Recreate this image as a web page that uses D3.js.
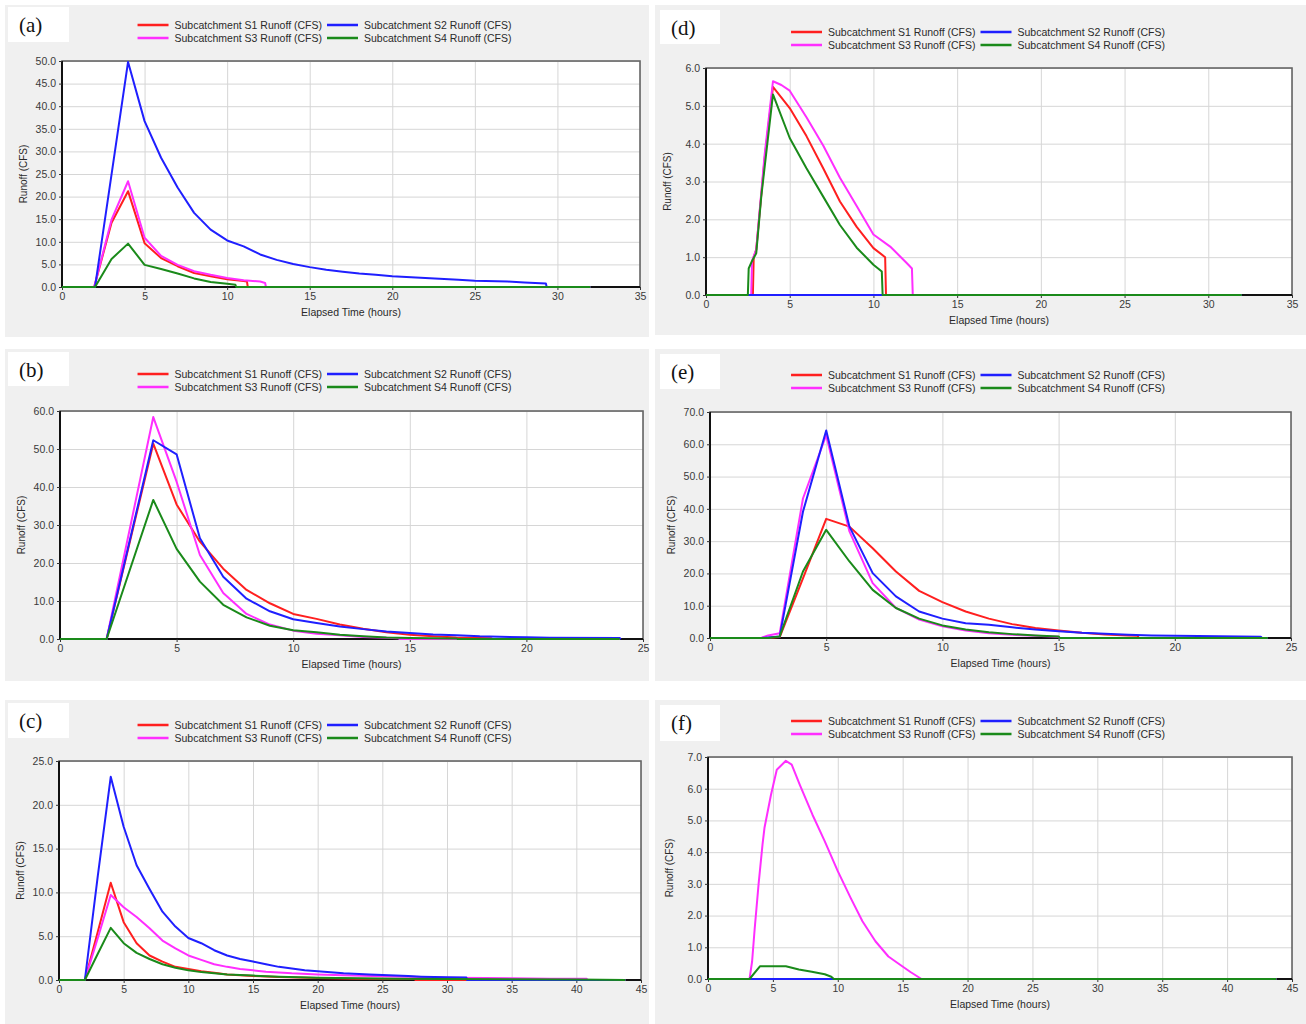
<!DOCTYPE html>
<html>
<head>
<meta charset="utf-8">
<script src="https://cdn.jsdelivr.net/npm/d3@7"></script>
<style>
    body { margin: 0; background: #fff; }
    svg text { font-family: "Liberation Sans", Arial, sans-serif; fill: #2a2a2a; }
</style>
</head>
<body>
<svg id="fig" width="1306" height="1024"></svg>
<script>
// [hours, CFS] pairs

// (a)
const aS1 = [[0,0],[1.95,0],[3,14.2],[4,21.2],[5,9.7],[6,6.4],[7,4.6],[8,3.1],[9,2.4],[10,1.7],[11,1.3],[11.2,1.2],[11.25,0],[32,0]];
const aS2 = [[0,0],[2,0],[4,49.8],[5,36.7],[6,28.6],[7,22.0],[8,16.4],[9,12.7],[10,10.3],[11,9.0],[12,7.2],[13,6.0],[14,5.1],[15,4.4],[16,3.8],[17,3.4],[18,3.0],[19,2.7],[20,2.4],[22,2.0],[24,1.6],[25,1.4],[27,1.2],[28,1.0],[29.3,0.8],[29.35,0],[32,0]];
const aS3 = [[0,0],[1.95,0],[3,14.9],[4,23.4],[5,10.9],[6,6.9],[7,4.9],[8,3.5],[9,2.7],[10,2.0],[11,1.5],[12,1.2],[12.3,0.9],[12.35,0],[32,0]];
const aS4 = [[0,0],[2,0],[3,6.2],[4,9.6],[5,4.9],[6,4.0],[7,3.0],[8,1.9],[9,1.1],[10,0.7],[10.5,0.5],[10.55,0],[32,0]];

// (b)
const bS1 = [[0,0],[2,0],[4,51.4],[5,35.4],[6,25.6],[7,18.5],[8,12.9],[9,9.4],[10,6.6],[11,5.3],[12,3.8],[13,2.7],[14,1.8],[15,1.1],[16,0.7],[17,0.4],[18.5,0.2],[18.55,0],[24,0]];
const bS2 = [[0,0],[2,0],[4,52.3],[5,48.6],[6,26.5],[7,16.4],[8,10.6],[9,7.3],[10,5.2],[11,4.2],[12,3.3],[13,2.6],[14,2.0],[15,1.6],[16,1.2],[17,1.0],[18,0.7],[20,0.45],[21,0.35],[24,0.25],[24.05,0]];
const bS3 = [[0,0],[2,0],[4,58.4],[5,41.4],[6,22.1],[7,12.1],[8,6.6],[9,3.8],[10,2.2],[11,1.4],[12,1.0],[13,0.5],[14,0.3],[14.5,0.2],[14.55,0],[24,0]];
const bS4 = [[0,0],[2,0],[4,36.6],[5,23.7],[6,15.1],[7,9.0],[8,5.7],[9,3.5],[10,2.3],[11,1.8],[12,1.1],[13,0.7],[14,0.4],[15,0.26],[17,0.15],[17.05,0],[24,0]];

// (c)
const cS1 = [[0,0],[2,0],[3,5.5],[4,11.1],[5,6.6],[6,4.2],[7,2.8],[8,2.1],[9,1.5],[10,1.25],[11,1.0],[12,0.83],[13,0.64],[14,0.53],[15,0.45],[17,0.34],[20,0.23],[23,0.15],[27.5,0.1],[27.55,0],[43.8,0]];
const cS2 = [[0,0],[2,0],[3,11.9],[4,23.2],[5,17.5],[6,13.1],[7,10.4],[8,7.8],[9,6.1],[10,4.8],[11,4.2],[12,3.4],[13,2.8],[14,2.4],[15,2.1],[16,1.8],[17,1.5],[18,1.3],[19,1.1],[20,1.0],[22,0.76],[24,0.64],[25,0.57],[27,0.45],[28,0.38],[30,0.3],[31.5,0.28],[31.55,0],[43.8,0]];
const cS3 = [[0,0],[2,0],[3,4.8],[4,9.7],[5,8.3],[6,7.2],[7,5.9],[8,4.5],[9,3.6],[10,2.8],[11,2.3],[12,1.8],[13,1.5],[14,1.25],[15,1.1],[16,0.95],[17,0.87],[18,0.76],[20,0.64],[22,0.53],[25,0.42],[28,0.34],[30,0.27],[33,0.23],[35,0.19],[38,0.15],[40.8,0.14],[40.85,0],[43.8,0]];
const cS4 = [[0,0],[2,0],[3,3.0],[4,5.95],[5,4.2],[6,3.1],[7,2.4],[8,1.8],[9,1.4],[10,1.1],[11,0.9],[12,0.76],[13,0.64],[14,0.57],[15,0.5],[17,0.38],[20,0.27],[23,0.19],[26,0.15],[30,0.11],[35,0.08],[40,0.05],[43.8,0]];

// (d)
const dS1 = [[0,0],[2.8,0],[2.85,1.0],[3.0,1.2],[3.5,3.6],[4,5.5],[5,4.94],[6,4.2],[7,3.35],[8,2.47],[9,1.8],[10,1.24],[10.7,1.0],[10.75,0],[32,0]];
const dS2 = [[0,0],[32,0]];
const dS3 = [[0,0],[2.7,0],[2.75,0.9],[3.0,1.2],[3.5,3.7],[4,5.65],[4.5,5.55],[5,5.4],[6,4.7],[7,3.95],[8,3.1],[9,2.35],[10,1.6],[11,1.28],[12,0.84],[12.3,0.7],[12.35,0],[32,0]];
const dS4 = [[0,0],[2.5,0],[2.55,0.7],[2.75,0.9],[3.0,1.1],[3.3,2.6],[4,5.3],[5,4.15],[6,3.35],[7,2.6],[8,1.85],[9,1.25],[10,0.8],[10.5,0.62],[10.55,0],[32,0]];

// (e)
const eS1 = [[0,0],[2.5,0],[3,0.3],[4,18.5],[5,36.9],[6,34.5],[7,27.8],[8,20.6],[9,14.6],[10,11.1],[11,8.2],[12,6.0],[13,4.3],[14,3.1],[15,2.3],[16,1.6],[17,1.1],[18,0.8],[18.4,0.7],[18.45,0],[24,0]];
const eS2 = [[0,0],[2.2,0],[3,0.5],[4,39.1],[5,64.3],[6,34.5],[7,20.1],[8,12.9],[9,8.2],[10,6.0],[11,4.6],[12,4.1],[13,3.3],[14,2.6],[15,2.1],[16,1.6],[17,1.3],[18,1.0],[19,0.8],[20,0.7],[21,0.6],[23.7,0.4],[23.75,0],[24,0]];
const eS3 = [[0,0],[2.2,0],[2.5,0.8],[3,1.5],[4,43.2],[5,62.8],[6,33],[7,17],[8,9.3],[9,5.7],[10,3.6],[11,2.3],[12,1.5],[13,1.0],[14,0.7],[15,0.4],[15.05,0],[24,0]];
const eS4 = [[0,0],[2.5,0],[3,0.5],[4,20.6],[5,33.5],[6,23.7],[7,14.9],[8,9.3],[9,6.0],[10,3.9],[11,2.6],[12,1.75],[13,1.2],[14,0.8],[15,0.5],[15.05,0],[24,0]];

// (f)
const fS1 = [[0,0],[43.8,0]];
const fS2 = [[0,0],[43.8,0]];
const fS3 = [[0,0],[3.2,0],[3.4,0.56],[3.6,1.6],[3.9,3.0],[4.2,4.24],[4.35,4.76],[4.85,5.8],[5.3,6.6],[6.0,6.88],[6.45,6.76],[7.1,6.1],[8.05,5.18],[9.0,4.34],[10.0,3.4],[11.0,2.55],[11.9,1.82],[12.9,1.19],[13.9,0.71],[14.8,0.45],[15.6,0.22],[16.45,0],[43.8,0]];
const fS4 = [[0,0],[3.2,0],[4,0.4],[6,0.4],[7,0.3],[8,0.23],[9,0.15],[9.5,0.07],[9.7,0],[43.8,0]];

const seriesKeys = ["S1", "S2", "S3", "S4"];
const seriesLabels = ["Subcatchment S1 Runoff (CFS)", "Subcatchment S2 Runoff (CFS)",
                      "Subcatchment S3 Runoff (CFS)", "Subcatchment S4 Runoff (CFS)"];
const seriesColors = { S1: "#ff1f1f", S2: "#1f1fff", S3: "#ff2eff", S4: "#1a8a1a" };
// S4 ends up on top, S2 over S3 (blue shows along zero in d and f)
const drawOrder = ["S1", "S3", "S2", "S4"];

const panels = [
    { label: "(a)", bg: [5, 5, 644, 332], plot: [62, 61, 640, 287], box: [8, 7, 61, 35], legendY: 25,
      xMax: 35, yMax: 50, yStep: 5, yFmt: ".1f", data: { S1: aS1, S2: aS2, S3: aS3, S4: aS4 } },
    { label: "(b)", bg: [5, 349, 644, 332], plot: [60, 411, 643, 639], box: [8, 352, 61, 34], legendY: 374,
      xMax: 25, yMax: 60, yStep: 10, yFmt: ".1f", data: { S1: bS1, S2: bS2, S3: bS3, S4: bS4 } },
    { label: "(c)", bg: [5, 700, 644, 324], plot: [59, 761, 641, 980], box: [8, 703, 61, 35], legendY: 725,
      xMax: 45, yMax: 25, yStep: 5, yFmt: ".1f", data: { S1: cS1, S2: cS2, S3: cS3, S4: cS4 } },
    { label: "(d)", bg: [655, 5, 651, 330], plot: [706, 68, 1292, 295], box: [660, 10, 60, 34], legendY: 32,
      xMax: 35, yMax: 6, yStep: 1, yFmt: ".1f", data: { S1: dS1, S2: dS2, S3: dS3, S4: dS4 } },
    { label: "(e)", bg: [655, 349, 651, 332], plot: [710, 412, 1291, 638], box: [660, 354, 60, 35], legendY: 375,
      xMax: 25, yMax: 70, yStep: 10, yFmt: ".1f", data: { S1: eS1, S2: eS2, S3: eS3, S4: eS4 } },
    { label: "(f)", bg: [655, 700, 651, 324], plot: [708, 757, 1292, 979], box: [660, 705, 60, 36], legendY: 721,
      xMax: 45, yMax: 7, yStep: 1, yFmt: ".1f", data: { S1: fS1, S2: fS2, S3: fS3, S4: fS4 } }
];

const svg = d3.select("#fig");

panels.forEach((p, i) => {
    const g = svg.append("g").attr("class", `panel-${i}`);
    const [l, t, r, b] = p.plot;

    // grey panel background
    g.append("rect")
        .attr("x", p.bg[0]).attr("y", p.bg[1])
        .attr("width", p.bg[2]).attr("height", p.bg[3])
        .attr("fill", "#f0f0f0");

    // letter box
    g.append("rect")
        .attr("x", p.box[0]).attr("y", p.box[1])
        .attr("width", p.box[2]).attr("height", p.box[3])
        .attr("fill", "#fff");
    g.append("text")
        .attr("x", p.box[0] + 11).attr("y", p.box[1] + 25)
        .style("font-family", "'Liberation Serif', 'Times New Roman', serif")
        .style("font-size", "21px")
        .style("fill", "#111")
        .text(p.label);

    const x = d3.scaleLinear().domain([0, p.xMax]).range([l, r]);
    const y = d3.scaleLinear().domain([0, p.yMax]).range([b, t]);
    const xTicks = d3.range(0, p.xMax + 0.001, 5);
    const yTicks = d3.range(0, p.yMax + p.yStep / 2, p.yStep);

    g.append("rect")
        .attr("x", l).attr("y", t)
        .attr("width", r - l).attr("height", b - t)
        .attr("fill", "#fff");

    // grid
    g.append("g")
        .attr("transform", `translate(0,${b})`)
        .call(d3.axisBottom(x).tickValues(xTicks).tickSize(-(b - t)).tickFormat(""))
        .call(s => s.select(".domain").remove())
        .call(s => s.selectAll("line").attr("stroke", "#d6d6d6"));
    g.append("g")
        .attr("transform", `translate(${l},0)`)
        .call(d3.axisLeft(y).tickValues(yTicks).tickSize(-(r - l)).tickFormat(""))
        .call(s => s.select(".domain").remove())
        .call(s => s.selectAll("line").attr("stroke", "#d6d6d6"));

    // frame
    g.append("rect")
        .attr("x", l).attr("y", t)
        .attr("width", r - l).attr("height", b - t)
        .attr("fill", "none").attr("stroke", "#666").attr("stroke-width", 1.6);
    g.append("line").attr("x1", l).attr("x2", l).attr("y1", t).attr("y2", b)
        .attr("stroke", "#111").attr("stroke-width", 2);
    g.append("line").attr("x1", l).attr("x2", r).attr("y1", b).attr("y2", b)
        .attr("stroke", "#111").attr("stroke-width", 2);

    // tick labels
    g.append("g")
        .attr("transform", `translate(0,${b})`)
        .call(d3.axisBottom(x).tickValues(xTicks).tickSize(3).tickPadding(3))
        .call(s => s.select(".domain").remove())
        .call(s => s.selectAll("line").attr("stroke", "#333"))
        .call(s => s.selectAll("text").style("font-size", "10.5px").attr("fill", null).style("fill", "#3a3a3a"));
    g.append("g")
        .attr("transform", `translate(${l},0)`)
        .call(d3.axisLeft(y).tickValues(yTicks).tickSize(3).tickPadding(3).tickFormat(d3.format(p.yFmt)))
        .call(s => s.select(".domain").remove())
        .call(s => s.selectAll("line").attr("stroke", "#333"))
        .call(s => s.selectAll("text").style("font-size", "10.5px").attr("fill", null).style("fill", "#3a3a3a"));

    g.append("text")
        .attr("x", (l + r) / 2).attr("y", b + 29)
        .attr("text-anchor", "middle")
        .style("font-size", "10.5px")
        .text("Elapsed Time (hours)");
    g.append("text")
        .attr("transform", `translate(${l - 35},${(t + b) / 2}) rotate(-90)`)
        .attr("text-anchor", "middle")
        .style("font-size", "10px")
        .text("Runoff (CFS)");

    // series
    const clipId = `clip-${i}`;
    g.append("clipPath").attr("id", clipId)
        .append("rect").attr("x", l).attr("y", t - 2).attr("width", r - l).attr("height", b - t + 4);
    const line = d3.line().x(d => x(d[0])).y(d => y(d[1]));
    g.append("g").attr("clip-path", `url(#${clipId})`)
        .selectAll("path")
        .data(drawOrder)
        .join("path")
        .attr("d", k => line(p.data[k]))
        .attr("fill", "none")
        .attr("stroke", k => seriesColors[k])
        .attr("stroke-width", 2)
        .attr("stroke-linejoin", "round");

    // legend, 2 x 2, centred over the grey panel
    const lg = g.append("g");
    const cells = seriesKeys.map((k, j) => ({ k, text: seriesLabels[j], col: j % 2, row: Math.floor(j / 2) }));
    const items = lg.selectAll("g").data(cells).join("g");
    items.append("line")
        .attr("x1", 0).attr("x2", 31)
        .attr("stroke", d => seriesColors[d.k]).attr("stroke-width", 2.5);
    items.append("text")
        .attr("x", 37).attr("y", 3.5)
        .style("font-size", "10.5px")
        .text(d => d.text);
    const colW = d3.max(items.selectAll("text").nodes(), n => n.getComputedTextLength()) + 42;
    const total = colW + 37 + colW - 42 + 5;
    const x0 = p.bg[0] + p.bg[2] / 2 - total / 2;
    items.attr("transform", d => `translate(${x0 + d.col * colW},${p.legendY + d.row * 13})`);
});
</script>
</body>
</html>
